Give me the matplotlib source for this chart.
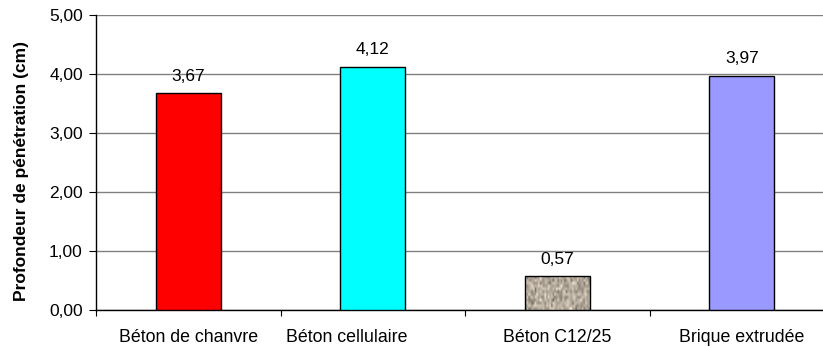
import numpy as np
import matplotlib
matplotlib.use('Agg')
import matplotlib.pyplot as plt
import matplotlib.transforms as mtransforms
from matplotlib.ticker import FuncFormatter

plt.rcParams['font.family'] = ['Liberation Sans', 'DejaVu Sans']

# Data
categories = ['Béton de chanvre', 'Béton cellulaire', 'Béton C12/25', 'Brique extrudée']
values = [3.67, 4.12, 0.57, 3.97]
colors = ['#FF0000', '#00FFFF', '#B0A598', '#9999FF']

fig = plt.figure(figsize=(8.23, 3.47), dpi=100)
# plot area runs a little past the right edge of the image, as in the original
ax = fig.add_axes([96 / 823, 37 / 347, 738 / 823, 295 / 347])

x = np.arange(len(categories))
bars = ax.bar(x, values, width=0.35, color=colors, edgecolor='black', linewidth=1, zorder=3)

# granite-like texture for the concrete bar
rng = np.random.default_rng(3)
tex = rng.normal(0.68, 0.11, size=(12, 40))
tex = np.clip(tex, 0.35, 0.97)
rgb = np.stack([tex * 1.03, tex * 0.97, tex * 0.89], axis=-1).clip(0, 1)
b = bars[2]
im = ax.imshow(rgb, extent=(b.get_x(), b.get_x() + b.get_width(), 0, b.get_height()),
               aspect='auto', interpolation='bilinear', zorder=3)
im.set_clip_path(b)
b.set_facecolor('none')
b.set_zorder(4)

# value labels
for xi, v in zip(x, values):
    ax.annotate(f'{v:.2f}'.replace('.', ','), (xi, v), xytext=(0, 7), textcoords='offset points',
                ha='center', va='bottom', fontsize=12.5)

ax.set_xlim(-0.5, len(categories) - 0.5)
ax.set_ylim(0, 5)
ax.set_yticks([0, 1, 2, 3, 4, 5])
ax.yaxis.set_major_formatter(FuncFormatter(lambda v, p: f'{v:.2f}'.replace('.', ',')))
ax.yaxis.grid(True, color='#808080', linewidth=1)
ax.set_axisbelow(True)

# category ticks on the boundaries, labels centred
ax.set_xticks(np.arange(len(categories)) - 0.5)
ax.set_xticklabels([])
ax.set_xticks(x, minor=True)
ax.set_xticklabels(categories, minor=True, fontsize=12.8)
ax.tick_params(axis='x', which='minor', length=0, pad=14)
ax.tick_params(axis='x', which='major', length=4, direction='out')
ax.tick_params(axis='y', length=5, direction='out', labelsize=12.5, pad=4.5)

# Excel nudged the second label to the left
lab = ax.xaxis.get_minorticklabels()[1]
lab.set_transform(lab.get_transform() + mtransforms.ScaledTranslation(-26 / 100, 0, fig.dpi_scale_trans))

for s in ['top', 'right']:
    ax.spines[s].set_visible(False)
ax.spines['left'].set_linewidth(1)
ax.spines['bottom'].set_linewidth(1)

fig.text(22 / 823, 1 - 171 / 347, 'Profondeur de pénétration (cm)', rotation=90,
         ha='center', va='center', fontsize=12.5, fontweight='bold')

fig.savefig('out.png', dpi=100)
